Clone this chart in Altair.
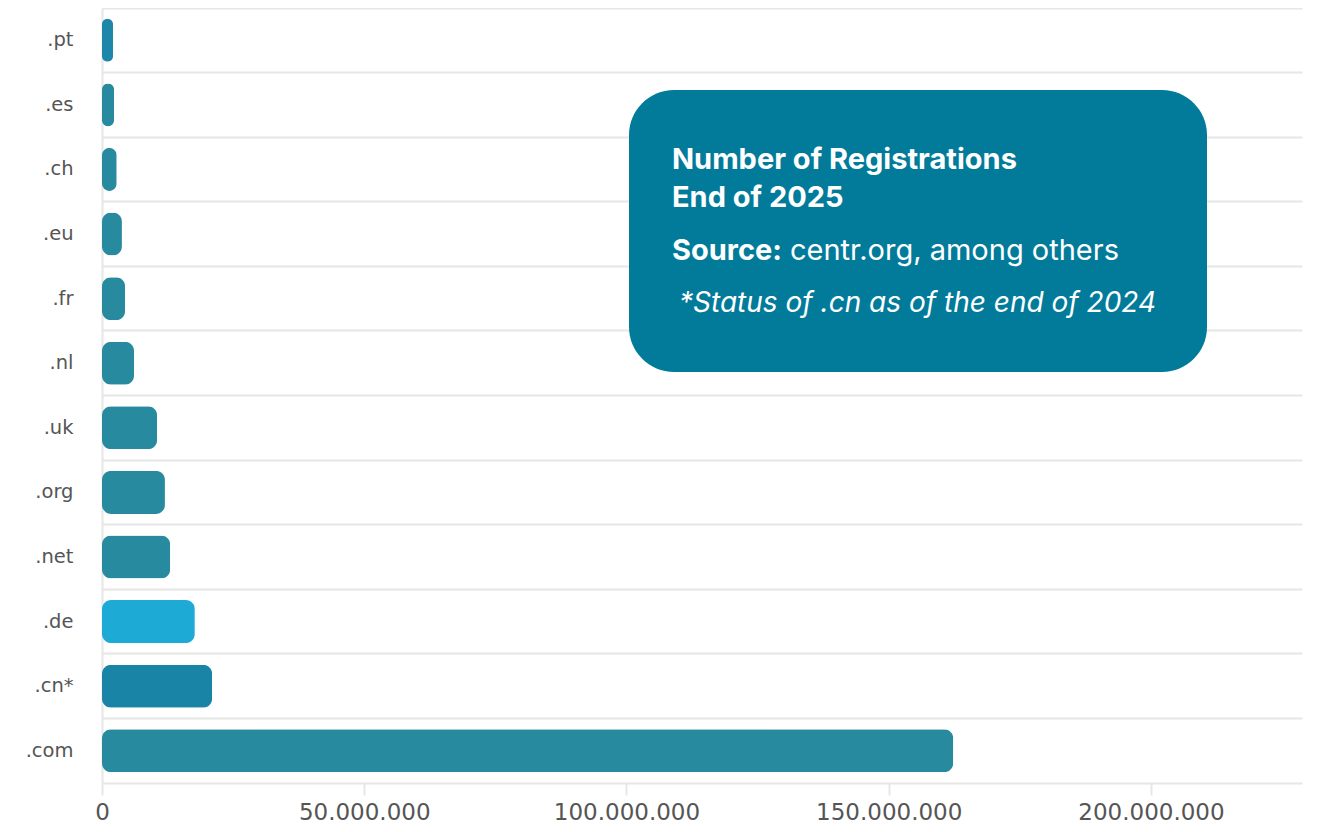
import altair as alt
import pandas as pd

# ---- data ----
domains = [".pt", ".es", ".ch", ".eu", ".fr", ".nl", ".uk", ".org", ".net", ".de", ".cn*", ".com"]
registrations = [2.1e6, 2.3e6, 2.8e6, 3.8e6, 4.4e6, 6.1e6, 10.5e6, 12.0e6, 13.0e6, 17.7e6, 21.0e6, 162.3e6]
bar_colors = ["#1E86A9", "#288A9E", "#288A9E", "#288A9E", "#288A9E", "#288A9E",
              "#288A9E", "#288A9E", "#288A9E", "#1DABD6", "#1A84A7", "#288A9E"]
x_ticks = [0, 50e6, 100e6, 150e6, 200e6]
x_max = 228.8e6

title_lines = ["Number of Registrations", "End of 2025"]
source_label = ["Source:"]
source_text = ["centr.org, among others"]
note_text = ["*Status of .cn as of the end of 2024"]

W, H = 1200, 775
BOX_COLOR = "#027B9B"
GRID = "#E6E6E6"

df = pd.DataFrame({"domain": domains, "value": registrations, "color": bar_colors})

bars = alt.Chart(df).mark_bar(height=43, cornerRadius=9).encode(
    x=alt.X(
        "value:Q",
        scale=alt.Scale(domain=[0, x_max], nice=False, zero=True),
        axis=alt.Axis(
            values=x_ticks,
            labelExpr="replace(replace(format(datum.value, ','), ',', '.'), ',', '.')",
            grid=False, tickSize=12, tickColor=GRID, tickWidth=2,
            domainColor=GRID, domainWidth=2,
            labelFont="DejaVu Sans", labelFontSize=23, labelColor="#555555",
            labelPadding=6, labelFlush=False, title=None,
        ),
    ),
    y=alt.Y(
        "domain:N",
        sort=domains,
        scale=alt.Scale(paddingInner=0, paddingOuter=0),
        axis=alt.Axis(
            bandPosition=0, grid=True, gridColor=GRID, gridWidth=2,
            ticks=False, domainColor=GRID, domainWidth=2,
            labelFont="DejaVu Sans", labelFontSize=19.5, labelColor="#555555",
            labelPadding=29, title=None,
        ),
    ),
    color=alt.Color("color:N", scale=None, legend=None),
)

box = alt.Chart(pd.DataFrame({"k": [0]})).mark_rect(
    color=BOX_COLOR, cornerRadius=45
).encode(
    x=alt.value(527), x2=alt.value(1105), y=alt.value(82), y2=alt.value(364)
)

def text_layer(lines, x, y, size, weight="normal", style="normal"):
    return alt.Chart(pd.DataFrame({"t": lines})).mark_text(
        align="left", baseline="alphabetic", font="Inter", fontSize=size,
        fontWeight=weight, fontStyle=style, color="white",
    ).encode(text="t:N", x=alt.value(x), y=alt.value(y))

t1 = text_layer([title_lines[0]], 570, 161, 29, weight="bold")
t2 = text_layer([title_lines[1]], 570, 199, 29, weight="bold")
t3 = text_layer(source_label, 570, 252, 29, weight="bold")
t4 = text_layer(source_text, 688, 252, 29)
t5 = text_layer(note_text, 577, 304, 28, style="italic")

chart = alt.layer(bars, box, t1, t2, t3, t4, t5).properties(
    width=W, height=H,
    autosize=alt.AutoSizeParams(type="none"),
    padding={"left": 94, "top": 0, "right": 9, "bottom": 42},
).configure_view(stroke=None)

chart.save("out.html", embed_options={"renderer": "svg", "actions": False})
